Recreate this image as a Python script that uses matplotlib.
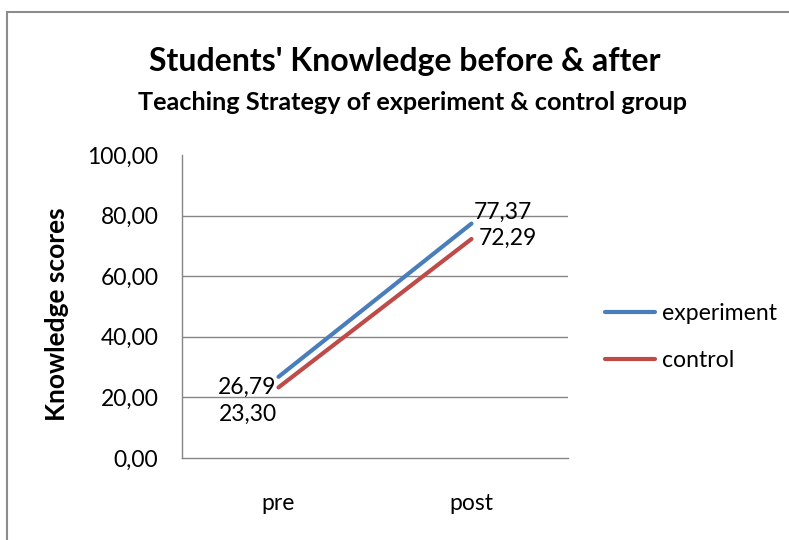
import matplotlib
import matplotlib.pyplot as plt
from matplotlib.patches import Rectangle

plt.rcParams['font.family'] = ['Lato', 'DejaVu Sans']

# data
stages = ['pre', 'post']
experiment = [26.79, 77.37]
control = [23.30, 72.29]
y_ticks = [0, 20, 40, 60, 80, 100]


def comma(v):
    return f"{v:.2f}".replace('.', ',')


W, H = 789, 540
fig = plt.figure(figsize=(W / 100, H / 100), dpi=100)

# outer chart border (top and left edges visible)
fig.add_artist(Rectangle((7 / W, -0.1), 1.2, 1.1 - 12 / H,
                         transform=fig.transFigure, fill=False,
                         edgecolor='#8c8c8c', linewidth=1.5))

ax = fig.add_axes([182 / W, 1 - 458 / H, (568 - 182) / W, (458 - 155) / H])
x = range(len(stages))
ax.plot(x, experiment, color='#4a7ebb', linewidth=3, label='experiment',
        solid_capstyle='round')
ax.plot(x, control, color='#be4b48', linewidth=3, label='control',
        solid_capstyle='round')

ax.set_xlim(-0.5, 1.5)
ax.set_ylim(0, 100)
ax.set_yticks(y_ticks)
ax.set_yticklabels([comma(v) for v in y_ticks])
ax.set_xticks(list(x))
ax.set_xticklabels(stages)
ax.tick_params(axis='y', length=0, pad=17, labelsize=16.5)
ax.tick_params(axis='x', length=0, pad=25, labelsize=16.5)
for v in y_ticks[1:-1]:
    ax.axhline(v, color='#868686', linewidth=1, zorder=0)
for s in ['top', 'right']:
    ax.spines[s].set_visible(False)
for s in ['left', 'bottom']:
    ax.spines[s].set_color('#868686')
    ax.spines[s].set_linewidth(1)

# data labels
lab = dict(textcoords='offset pixels', fontsize=16.5, va='center')
ax.annotate(comma(experiment[0]), (0, experiment[0]), xytext=(-2, -11),
            ha='right', **lab)
ax.annotate(comma(control[0]), (0, control[0]), xytext=(-2, -27),
            ha='right', **lab)
ax.annotate(comma(experiment[1]), (1, experiment[1]), xytext=(2, 11),
            ha='left', **lab)
ax.annotate(comma(control[1]), (1, control[1]), xytext=(7, 1),
            ha='left', **lab)

fig.text(57 / W, 1 - 314 / H, 'Knowledge scores', rotation=90,
         ha='center', va='center', fontsize=19, fontweight='bold')

fig.text(405 / W, 1 - 62 / H, "Students' Knowledge before & after",
         ha='center', va='center', fontsize=23, fontweight='bold')
fig.text(413 / W, 1 - 102 / H, 'Teaching Strategy of experiment & control group',
         ha='center', va='center', fontsize=18.2, fontweight='bold')

fig.legend(loc='center left', bbox_to_anchor=(584 / W, 1 - 337 / H),
           frameon=False, fontsize=16.6, handlelength=2.2, handletextpad=0.3,
           labelspacing=1.1)

fig.savefig('out.png', dpi=100)
